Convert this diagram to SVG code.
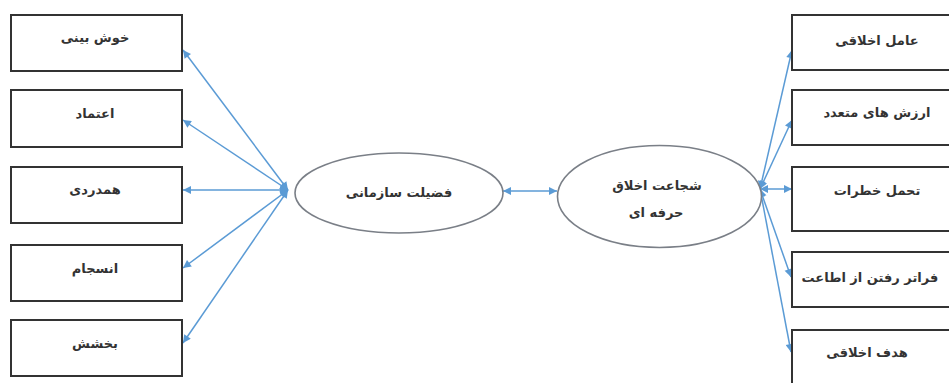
<svg xmlns="http://www.w3.org/2000/svg" width="949" height="383" viewBox="0 0 949 383">
<defs>
<style>
.box{fill:#fff;stroke:#333;stroke-width:2}
.ell{fill:#fff;stroke:#7a7f87;stroke-width:1.6}
.lbl{font-family:"DejaVu Sans","Noto Sans",sans-serif;font-size:13px;font-weight:bold;fill:#333;text-anchor:middle;dominant-baseline:central}
.con{stroke:#5b9bd5;stroke-width:1.5;fill:none;marker-start:url(#ah);marker-end:url(#ah)}
</style>
<marker id="ah" viewBox="0 0 10 10" refX="10" refY="5" markerWidth="10" markerHeight="8" markerUnits="userSpaceOnUse" orient="auto-start-reverse">
<path d="M0,0 L10,5 L0,10 Z" fill="#5b9bd5"/>
</marker>
</defs>
<rect width="949" height="383" fill="#fff"/>
<g id="connectors">
<line class="con" x1="288" y1="190" x2="183" y2="50"/>
<line class="con" x1="288" y1="190" x2="183" y2="120"/>
<line class="con" x1="288" y1="190" x2="183" y2="190"/>
<line class="con" x1="288" y1="190" x2="183" y2="268"/>
<line class="con" x1="288" y1="190" x2="183" y2="343"/>
<line class="con" x1="503" y1="191" x2="557" y2="191"/>
<line class="con" x1="760" y1="189" x2="792" y2="50"/>
<line class="con" x1="760" y1="189" x2="792" y2="120"/>
<line class="con" x1="760" y1="189" x2="792" y2="189"/>
<line class="con" x1="760" y1="189" x2="791" y2="277"/>
<line class="con" x1="760" y1="189" x2="791" y2="352"/>
</g>
<g id="n-khoshbini"><rect class="box" x="11" y="15" width="171" height="56"/><text class="lbl" x="95" y="37">خوش بینی</text></g>
<g id="n-etemad"><rect class="box" x="11" y="90" width="171" height="57"/><text class="lbl" x="95" y="113">اعتماد</text></g>
<g id="n-hamdardi"><rect class="box" x="11" y="167" width="171" height="56"/><text class="lbl" x="95" y="189">همدردی</text></g>
<g id="n-ensejam"><rect class="box" x="11" y="245" width="171" height="56"/><text class="lbl" x="95" y="268">انسجام</text></g>
<g id="n-bakhshesh"><rect class="box" x="11" y="320" width="171" height="56"/><text class="lbl" x="95" y="343">بخشش</text></g>
<g id="n-fazilat"><ellipse class="ell" cx="399" cy="193" rx="104" ry="40"/><text class="lbl" x="399" y="192">فضیلت سازمانی</text></g>
<g id="n-shojaat"><ellipse class="ell" cx="659.500" cy="196.500" rx="102" ry="51"/><text class="lbl" x="657" y="185">شجاعت اخلاق</text><text class="lbl" x="656" y="212">حرفه ای</text></g>
<g id="n-amel"><rect class="box" x="792" y="15" width="170" height="55"/><text class="lbl" x="877" y="40">عامل اخلاقی</text></g>
<g id="n-arzesh"><rect class="box" x="792" y="90" width="170" height="55"/><text class="lbl" x="877" y="112">ارزش های متعدد</text></g>
<g id="n-tahammol"><rect class="box" x="792" y="167" width="170" height="64"/><text class="lbl" x="877" y="190">تحمل خطرات</text></g>
<g id="n-faratar"><rect class="box" x="792" y="252" width="170" height="55"/><text class="lbl" x="870" y="277">فراتر رفتن از اطاعت</text></g>
<g id="n-hadaf"><rect class="box" x="792" y="330" width="170" height="70"/><text class="lbl" x="867" y="352">هدف اخلاقی</text></g>
</svg>
